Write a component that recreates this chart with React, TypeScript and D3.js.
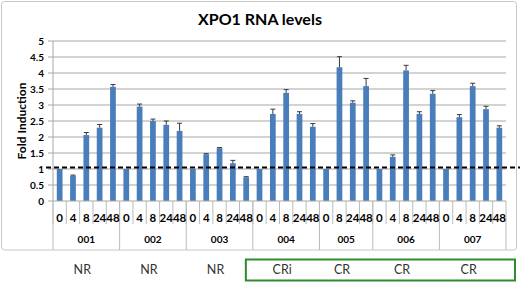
import React from "react";
import * as d3 from "d3";

const title = "XPO1 RNA levels";
const yTitle = "Fold Induction";
const yTicks = [0, 0.5, 1, 1.5, 2, 2.5, 3, 3.5, 4, 4.5, 5];
const groups = ["001", "002", "003", "004", "005", "006", "007"];
const responses = ["NR", "NR", "NR", "CRi", "CR", "CR", "CR"];
const timepoints = [
  ["0", "4", "8", "24", "48"],
  ["0", "4", "8", "24", "48"],
  ["0", "4", "8", "24", "48"],
  ["0", "4", "8", "24", "48"],
  ["0", "8", "24", "48"],
  ["0", "4", "8", "24", "48"],
  ["0", "4", "8", "24", "48"],
];
const values = [
  [1.0, 0.79, 2.06, 2.29, 3.57],
  [1.0, 2.95, 2.5, 2.38, 2.19],
  [1.0, 1.46, 1.65, 1.18, 0.74],
  [1.0, 2.72, 3.38, 2.72, 2.32],
  [1.0, 4.18, 3.07, 3.59],
  [1.0, 1.38, 4.08, 2.72, 3.35],
  [1.0, 2.62, 3.59, 2.87, 2.29],
];
const errors = [
  [0, 0.02, 0.08, 0.1, 0.07],
  [0, 0.08, 0.06, 0.12, 0.24],
  [0, 0.02, 0.02, 0.09, 0.02],
  [0, 0.15, 0.1, 0.07, 0.1],
  [0, 0.33, 0.06, 0.24],
  [0, 0.06, 0.16, 0.07, 0.1],
  [0, 0.08, 0.09, 0.09, 0.06],
];
const threshold = 1.05;
const greenStartGroup = 3;

const W = 520;
const H = 283;
const plotL = 53;
const plotR = 506;
const plotT = 41;
const plotB = 201;
const FONT = "Lato, 'Open Sans', sans-serif";

type Cat = { key: string; group: number; label: string; value: number; err: number };

export default function App() {
  const cats: Cat[] = [];
  groups.forEach((g, gi) => {
    timepoints[gi].forEach((t, ti) => {
      cats.push({ key: g + "-" + t, group: gi, label: t, value: values[gi][ti], err: errors[gi][ti] });
    });
  });

  const x = d3
    .scaleBand<string>()
    .domain(cats.map((c) => c.key))
    .range([plotL, plotR])
    .paddingInner(0.57)
    .paddingOuter(0.285);
  const step = x.step();
  const y = d3.scaleLinear().domain([0, 5]).range([plotB, plotT]);

  const groupBounds: { start: number; end: number }[] = groups.map((g, gi) => {
    const keys = cats.filter((c) => c.group === gi).map((c) => c.key);
    const s = (x(keys[0]) as number) - step * 0.285;
    const e = (x(keys[keys.length - 1]) as number) - step * 0.285 + step;
    return { start: s, end: e };
  });

  const catBounds = cats.map((c) => (x(c.key) as number) - step * 0.285);

  const greenX0 = groupBounds[greenStartGroup].start - 7;
  const greenX1 = 515;

  return (
    <svg
      width={W}
      height={H}
      style={{ position: "absolute", left: 0, top: 0, background: "#fff" }}
      fontFamily={FONT}
    >
      <rect x={0} y={0} width={W} height={H} fill="#fff" />
      <rect x={1.5} y={1.5} width={515} height={248.5} fill="#fff" stroke="#c8c8c8" strokeWidth={1} rx={3} />
      <text x={260} y={25} textAnchor="middle" fontSize={16} fontWeight="bold" fill="#000">
        {title}
      </text>

      {yTicks.filter((t) => t > 0).map((t) => (
        <line key={"g" + t} x1={plotL} x2={plotR} y1={y(t)} y2={y(t)} stroke="#c4c4c4" strokeWidth={1.3} />
      ))}

      <line x1={plotL} x2={plotL} y1={plotT} y2={plotB} stroke="#a8a8a8" strokeWidth={1} />
      {yTicks.map((t) => (
        <g key={"yt" + t}>
          <line x1={plotL - 5} x2={plotL} y1={y(t)} y2={y(t)} stroke="#a8a8a8" />
          <text x={44} y={y(t)} dy="0.35em" textAnchor="end" fontSize={10} fontWeight="bold" fill="#000">
            {t}
          </text>
        </g>
      ))}
      <text
        transform={`translate(26,${(plotT + plotB) / 2}) rotate(-90)`}
        textAnchor="middle"
        fontSize={12}
        fontWeight="bold"
        fill="#000"
      >
        {yTitle}
      </text>

      {cats.map((c) => (
        <rect
          key={"b" + c.key}
          x={x(c.key)}
          width={x.bandwidth()}
          y={y(c.value)}
          height={plotB - y(c.value)}
          fill="#4a7ebb"
        />
      ))}
      {cats.filter((c) => c.err > 0).map((c) => {
        const cx = (x(c.key) as number) + x.bandwidth() / 2;
        return (
          <g key={"e" + c.key} stroke="#3a3a3a" strokeWidth={1}>
            <line x1={cx} x2={cx} y1={y(c.value)} y2={y(c.value + c.err)} />
            <line x1={cx - 2.5} x2={cx + 2.5} y1={y(c.value + c.err)} y2={y(c.value + c.err)} />
          </g>
        );
      })}

      <line x1={plotL} x2={plotR} y1={plotB} y2={plotB} stroke="#a8a8a8" />
      {catBounds.map((b, i) => (
        <line key={"cb" + i} x1={b} x2={b} y1={plotB} y2={224} stroke="#bcbcbc" />
      ))}
      {groupBounds.map((g, i) => (
        <line key={"gb" + i} x1={g.start} x2={g.start} y1={plotB} y2={250} stroke="#bcbcbc" />
      ))}
      <line x1={plotR} x2={plotR} y1={plotB} y2={250} stroke="#bcbcbc" />
      {cats.map((c) => (
        <text
          key={"cl" + c.key}
          x={(x(c.key) as number) + x.bandwidth() / 2}
          y={222}
          textAnchor="middle"
          fontSize={11.5}
          fontWeight="bold"
          fill="#000"
        >
          {c.label}
        </text>
      ))}
      {groups.map((g, i) => (
        <text
          key={"gl" + g}
          x={(groupBounds[i].start + groupBounds[i].end) / 2}
          y={242.5}
          textAnchor="middle"
          fontSize={10}
          fontWeight="bold"
          fill="#000"
        >
          {g}
        </text>
      ))}

      <line x1={46} x2={520} y1={y(threshold)} y2={y(threshold)} stroke="#000" strokeWidth={2} strokeDasharray="5,3" />

      <rect x={greenX0} y={259.5} width={greenX1 - greenX0} height={21} fill="none" stroke="#2e8b2e" strokeWidth={2} />
      {responses.map((r, i) => (
        <text
          key={"r" + i}
          x={(groupBounds[i].start + groupBounds[i].end) / 2 - 4}
          y={274}
          textAnchor="middle"
          fontSize={12.5}
          fill="#333"
        >
          {r}
        </text>
      ))}
    </svg>
  );
}
